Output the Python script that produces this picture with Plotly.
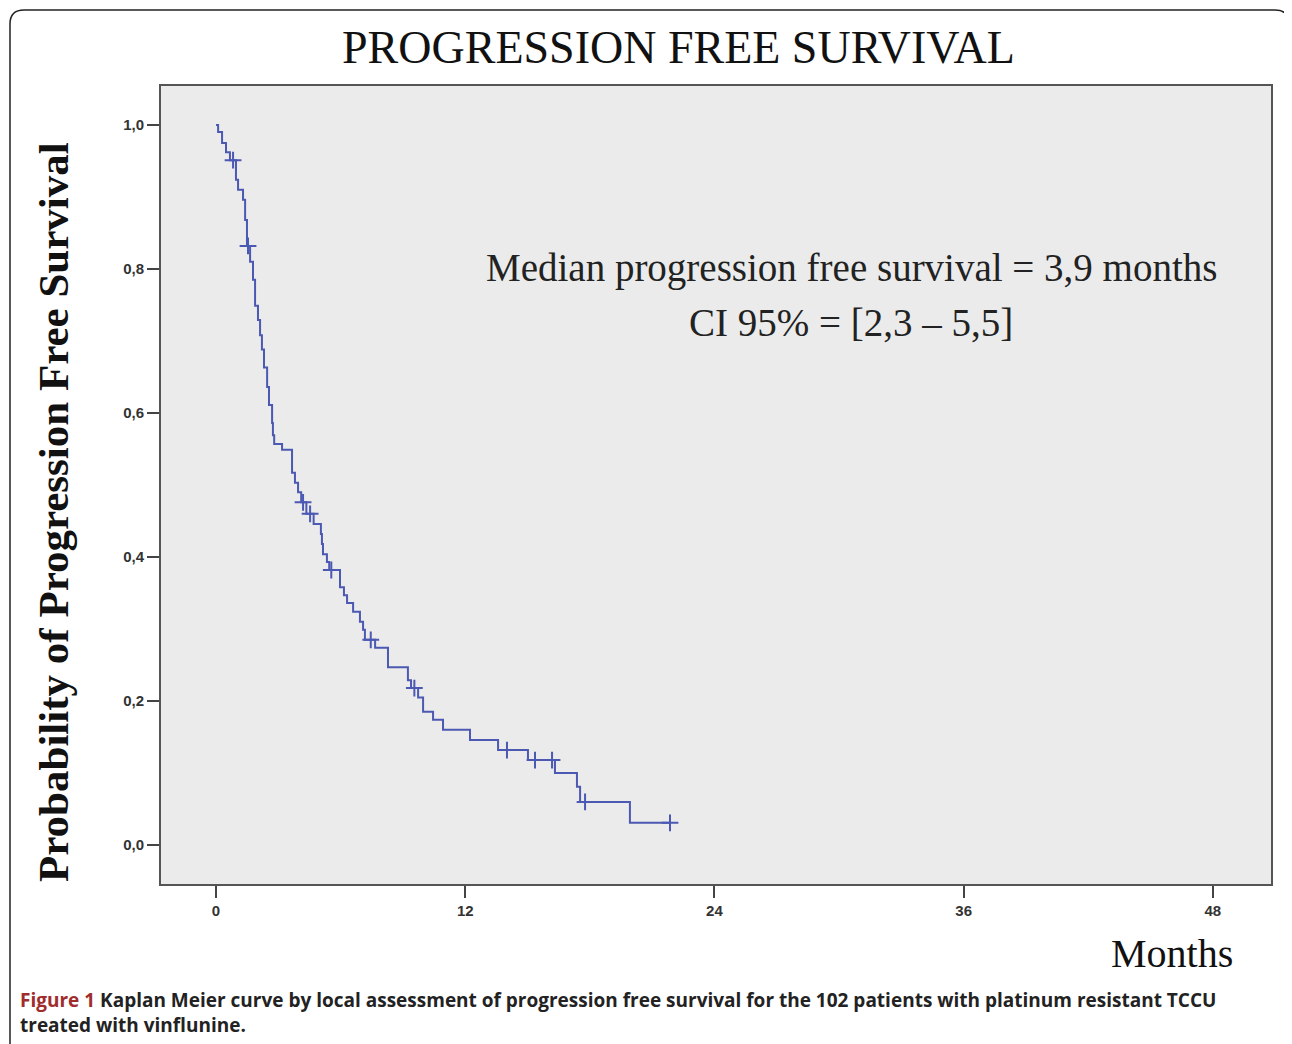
import numpy as np
import plotly.graph_objects as go

# ---- data ----
step_times = [0, 0.10, 0.29, 0.48, 0.67, 0.96, 1.06, 1.30, 1.40, 1.49, 1.64, 1.78, 1.88,
              2.02, 2.12, 2.21, 2.31, 2.46, 2.55, 2.70, 2.74, 2.80, 3.18, 3.66, 3.80, 3.95,
              4.10, 4.35, 4.70, 5.05, 5.10, 5.15, 5.34, 5.45, 5.97, 6.16, 6.31, 6.60, 6.93,
              7.08, 7.17, 7.66, 8.28, 9.24, 9.39, 9.73, 9.97, 10.45, 10.93, 12.23, 13.58,
              15.02, 16.32, 17.38, 17.53, 19.93]
step_surv = [1.0, 0.990, 0.975, 0.962, 0.951, 0.924, 0.910, 0.896, 0.868, 0.832, 0.810, 0.785, 0.749,
             0.729, 0.708, 0.688, 0.663, 0.636, 0.611, 0.586, 0.569, 0.557, 0.549, 0.517, 0.503, 0.490,
             0.476, 0.460, 0.446, 0.432, 0.418, 0.404, 0.393, 0.382, 0.358, 0.347, 0.336, 0.324, 0.310,
             0.299, 0.285, 0.274, 0.247, 0.229, 0.218, 0.205, 0.185, 0.174, 0.160, 0.146, 0.132,
             0.118, 0.100, 0.081, 0.060, 0.031]
last_followup = 21.86
censor_times = [0.82, 1.54, 4.19, 4.53, 5.55, 7.45, 9.55, 14.01, 15.36, 16.18, 17.77, 21.86]

x_ticks = [0, 12, 24, 36, 48]
x_ticktext = ["0", "12", "24", "36", "48"]
y_ticks = [0.0, 0.2, 0.4, 0.6, 0.8, 1.0]
y_ticktext = ["0,0", "0,2", "0,4", "0,6", "0,8", "1,0"]

title_text = "PROGRESSION FREE SURVIVAL"
ylabel_text = "Probability of Progression Free Survival"
xlabel_text = "Months"
median_line1 = "Median progression free survival = 3,9 months"
median_line2 = "CI 95% = [2,3 \u2013 5,5]"
caption_bold = "Figure 1"
caption_rest1 = " Kaplan Meier curve by local assessment of progression free survival for the 102 patients with platinum resistant TCCU"
caption_line2 = "treated with vinflunine."

# ---- build ----
line_x = step_times + [last_followup]
line_y = step_surv + [step_surv[-1]]
st = np.array(step_times)
sv = np.array(step_surv)
censor_y = [float(sv[np.searchsorted(st, t, side="right") - 1]) for t in censor_times]

BLUE = "#4b59b3"
OFF = 8  # page body margin
W, H = 1292 - OFF, 1044 - OFF
L, R, T, B = 161 - OFF, 1271 - OFF, 86 - OFF, 884 - OFF


def px(xpix):
    return (xpix - OFF - L) / (R - L)


def py(ypix):
    return (B - (ypix - OFF)) / (B - T)


fig = go.Figure()
fig.add_trace(go.Scatter(x=line_x, y=line_y, mode="lines", line=dict(color=BLUE, width=2, shape="hv"),
                         hoverinfo="skip", showlegend=False))
fig.add_trace(go.Scatter(x=censor_times, y=censor_y, mode="markers",
                         marker=dict(symbol="cross-thin", size=12, line=dict(color=BLUE, width=2)),
                         hoverinfo="skip", showlegend=False))

serif = "Liberation Serif, Times New Roman, serif"
tickfont = dict(family="Liberation Sans, Arial", size=15, color="#333")
fig.update_layout(
    width=W, height=H,
    margin=dict(l=L, r=W - R, t=T, b=H - B),
    paper_bgcolor="white", plot_bgcolor="#ebebeb",
    xaxis=dict(range=[-2.65, 50.8], tickvals=x_ticks, ticktext=["<b>" + s + "</b>" for s in x_ticktext],
               ticks="outside", ticklen=12, tickwidth=2,
               tickcolor="#444", showgrid=False, zeroline=False, showline=True, linecolor="#555",
               linewidth=2, mirror=True, tickfont=tickfont),
    yaxis=dict(range=[-0.054, 1.054], tickvals=y_ticks, ticktext=["<b>" + s + "</b>" for s in y_ticktext],
               ticks="outside", ticklen=12, tickwidth=2, tickcolor="#444", showgrid=False, zeroline=False,
               showline=True, linecolor="#555", linewidth=2, mirror=True, tickfont=tickfont),
)

ann = [
    dict(text=title_text, x=px(678), y=py(48), font=dict(family=serif, size=46, color="#111")),
    dict(text="<b>" + ylabel_text + "</b>", x=px(53), y=py(512), textangle=-90,
         font=dict(family=serif, size=43, color="#111")),
    dict(text=xlabel_text, x=px(1172), y=py(953), font=dict(family=serif, size=40, color="#111")),
    dict(text=median_line1, x=px(851), y=py(268), font=dict(family=serif, size=39, color="#222")),
    dict(text=median_line2, x=px(851), y=py(322), font=dict(family=serif, size=39, color="#222")),
]
for a in ann:
    fig.add_annotation(xref="paper", yref="paper", showarrow=False, xanchor="center", yanchor="middle", **a)

cap_font = dict(family="Open Sans, Noto Sans, sans-serif", size=19, color="#222")
fig.add_annotation(xref="paper", yref="paper", showarrow=False, xanchor="left", yanchor="middle",
                   x=px(18), y=py(1000), font=cap_font,
                   text="<b><span style='color:#a02c2c'>" + caption_bold + "</span>" + caption_rest1 + "</b>")
fig.add_annotation(xref="paper", yref="paper", showarrow=False, xanchor="left", yanchor="middle",
                   x=px(18), y=py(1025), font=cap_font, text="<b>" + caption_line2 + "</b>")

# rounded outer frame
x0, x1, y0, y1, r = 10, 1289, 10, 1060, 14
path = (f"M {px(x0)},{py(y0 + r)} Q {px(x0)},{py(y0)} {px(x0 + r)},{py(y0)} "
        f"L {px(x1 - r)},{py(y0)} Q {px(x1)},{py(y0)} {px(x1)},{py(y0 + r)} "
        f"L {px(x1)},{py(y1)} L {px(x0)},{py(y1)} Z")
fig.add_shape(type="path", xref="paper", yref="paper", path=path, line=dict(color="#222", width=1.5))

fig.write_html("out.html")
